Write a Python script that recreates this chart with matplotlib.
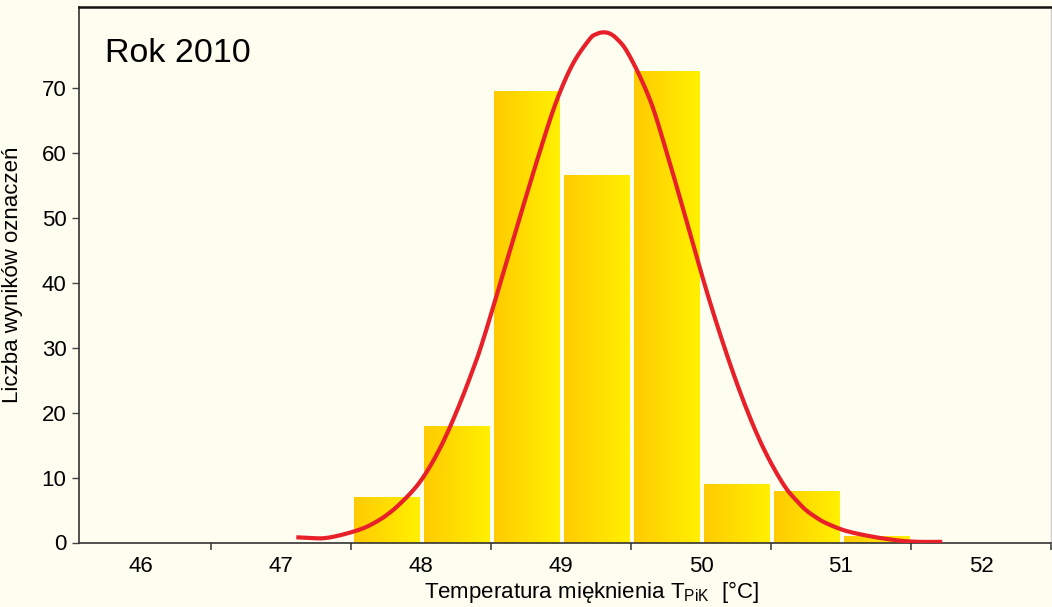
import numpy as np
import matplotlib
matplotlib.use('Agg')
import matplotlib.pyplot as plt

# histogram: bin start (degC), counts
bin_start = [47.5, 48.0, 48.5, 49.0, 49.5, 50.0, 50.5, 51.0]
counts = [7, 18, 69.5, 56.5, 72.5, 9, 8, 1]

# fitted curve
curve_t = [47.11, 47.20, 47.30, 47.40, 47.515, 47.60, 47.682, 47.76, 47.848, 47.967,
           48.062, 48.157, 48.252, 48.347, 48.442, 48.609, 48.728, 48.847,
           48.966, 49.084, 49.203, 49.25, 49.30, 49.35, 49.40, 49.465, 49.56, 49.655,
           49.75, 49.845, 49.94, 50.036, 50.13, 50.225, 50.321, 50.416, 50.511,
           50.606, 50.68, 50.749, 50.82, 50.892, 51.034, 51.224, 51.414, 51.557,
           51.723]
curve_n = [0.8, 0.7, 0.65, 1.0, 1.66, 2.3, 3.2, 4.3, 5.9, 8.6,
           11.6, 15.4, 20.0, 25.2, 31.0, 43.0, 51.6, 60.0,
           67.8, 73.6, 77.4, 78.2, 78.5, 78.3, 77.5, 75.8, 71.9, 67.0,
           60.4, 53.4, 46.2, 39.0, 32.5, 26.4, 20.8, 15.9, 11.8,
           8.4, 6.5, 5.0, 3.9, 3.0, 1.8, 0.9, 0.3, 0.1,
           0.1]

x_labels = ['46', '47', '48', '49', '50', '51', '52']
x_pos = [46, 47, 48, 49, 50, 51, 52]


def smooth(xs, ys, n=12):
    # Catmull-Rom through the read points, only to draw a smooth line
    p = np.column_stack([xs, ys])
    p = np.vstack([p[0], p, p[-1]])
    out = []
    for i in range(1, len(p) - 2):
        p0, p1, p2, p3 = p[i - 1], p[i], p[i + 1], p[i + 2]
        for t in np.linspace(0, 1, n, endpoint=False):
            out.append(0.5 * (2 * p1 + (-p0 + p2) * t
                              + (2 * p0 - 5 * p1 + 4 * p2 - p3) * t ** 2
                              + (-p0 + 3 * p1 - 3 * p2 + p3) * t ** 3))
    out.append(p[-2])
    out = np.array(out)
    return out[:, 0], out[:, 1]


plt.rcParams['font.family'] = ['Liberation Sans', 'DejaVu Sans']
plt.rcParams['mathtext.fontset'] = 'custom'
plt.rcParams['mathtext.rm'] = 'Liberation Sans'

bg = '#fdfdf0'
fig = plt.figure(figsize=(10.52, 6.07), dpi=100, facecolor=bg)
ax = fig.add_axes([79 / 1052, 1 - 542.5 / 607, 972 / 1052, 535.5 / 607])
ax.set_facecolor(bg)

# gradient bars
grad = np.linspace(0, 1, 64).reshape(1, -1)
cmap = matplotlib.colors.LinearSegmentedColormap.from_list(
    'yel', ['#ffcb00', '#fff000'])
bars = ax.bar(np.array(bin_start) + 0.025, counts, width=0.47, align='edge',
              color='none', edgecolor='none', zorder=2)
for b in bars:
    x0, y0 = b.get_x(), b.get_y()
    w, h = b.get_width(), b.get_height()
    im = ax.imshow(grad, cmap=cmap, aspect='auto', extent=(x0, x0 + w, y0, y0 + h),
                   zorder=2, interpolation='bilinear')
    im.set_clip_path(b)

sx, sy = smooth(curve_t, curve_n)
ax.plot(sx, sy, color='#e8202a', lw=3.0, solid_capstyle='butt', zorder=3)

ax.set_xlim(45.558, 52.5)
ax.set_ylim(0, 82.4)

ax.set_xticks(np.arange(46.5, 52.6, 1.0))
ax.set_xticklabels([])
ax.set_xticks(x_pos, minor=True)
ax.set_xticklabels(x_labels, minor=True)
ax.tick_params(axis='x', which='major', length=5, width=1.2, color='#444444', direction='out')
ax.tick_params(axis='x', which='minor', length=0, pad=10, labelsize=16)
ax.set_yticks([0, 10, 20, 30, 40, 50, 60, 70])
ax.tick_params(axis='y', length=5, width=1.0, color='#444444', pad=4, labelsize=16)

for side in ['left', 'bottom']:
    ax.spines[side].set_color('#333333')
    ax.spines[side].set_linewidth(1.2)
ax.spines['top'].set_color('#111111')
ax.spines['top'].set_linewidth(1.8)
ax.spines['right'].set_color('#cccccc')
ax.spines['right'].set_linewidth(1.0)

ax.set_ylabel('Liczba wyników oznaczeń', fontsize=16)
ax.yaxis.set_label_coords(-0.058, 0.5)
ax.set_xlabel(r'Temperatura mięknienia T$_{\mathrm{PiK}}$  [°C]', fontsize=16)
ax.xaxis.set_label_coords(0.527, -0.068)

ax.text(105, 607 - 62, 'Rok 2010', transform=None, fontsize=24.5,
        va='baseline', ha='left')

fig.savefig('out.png', dpi=100, facecolor=bg)
